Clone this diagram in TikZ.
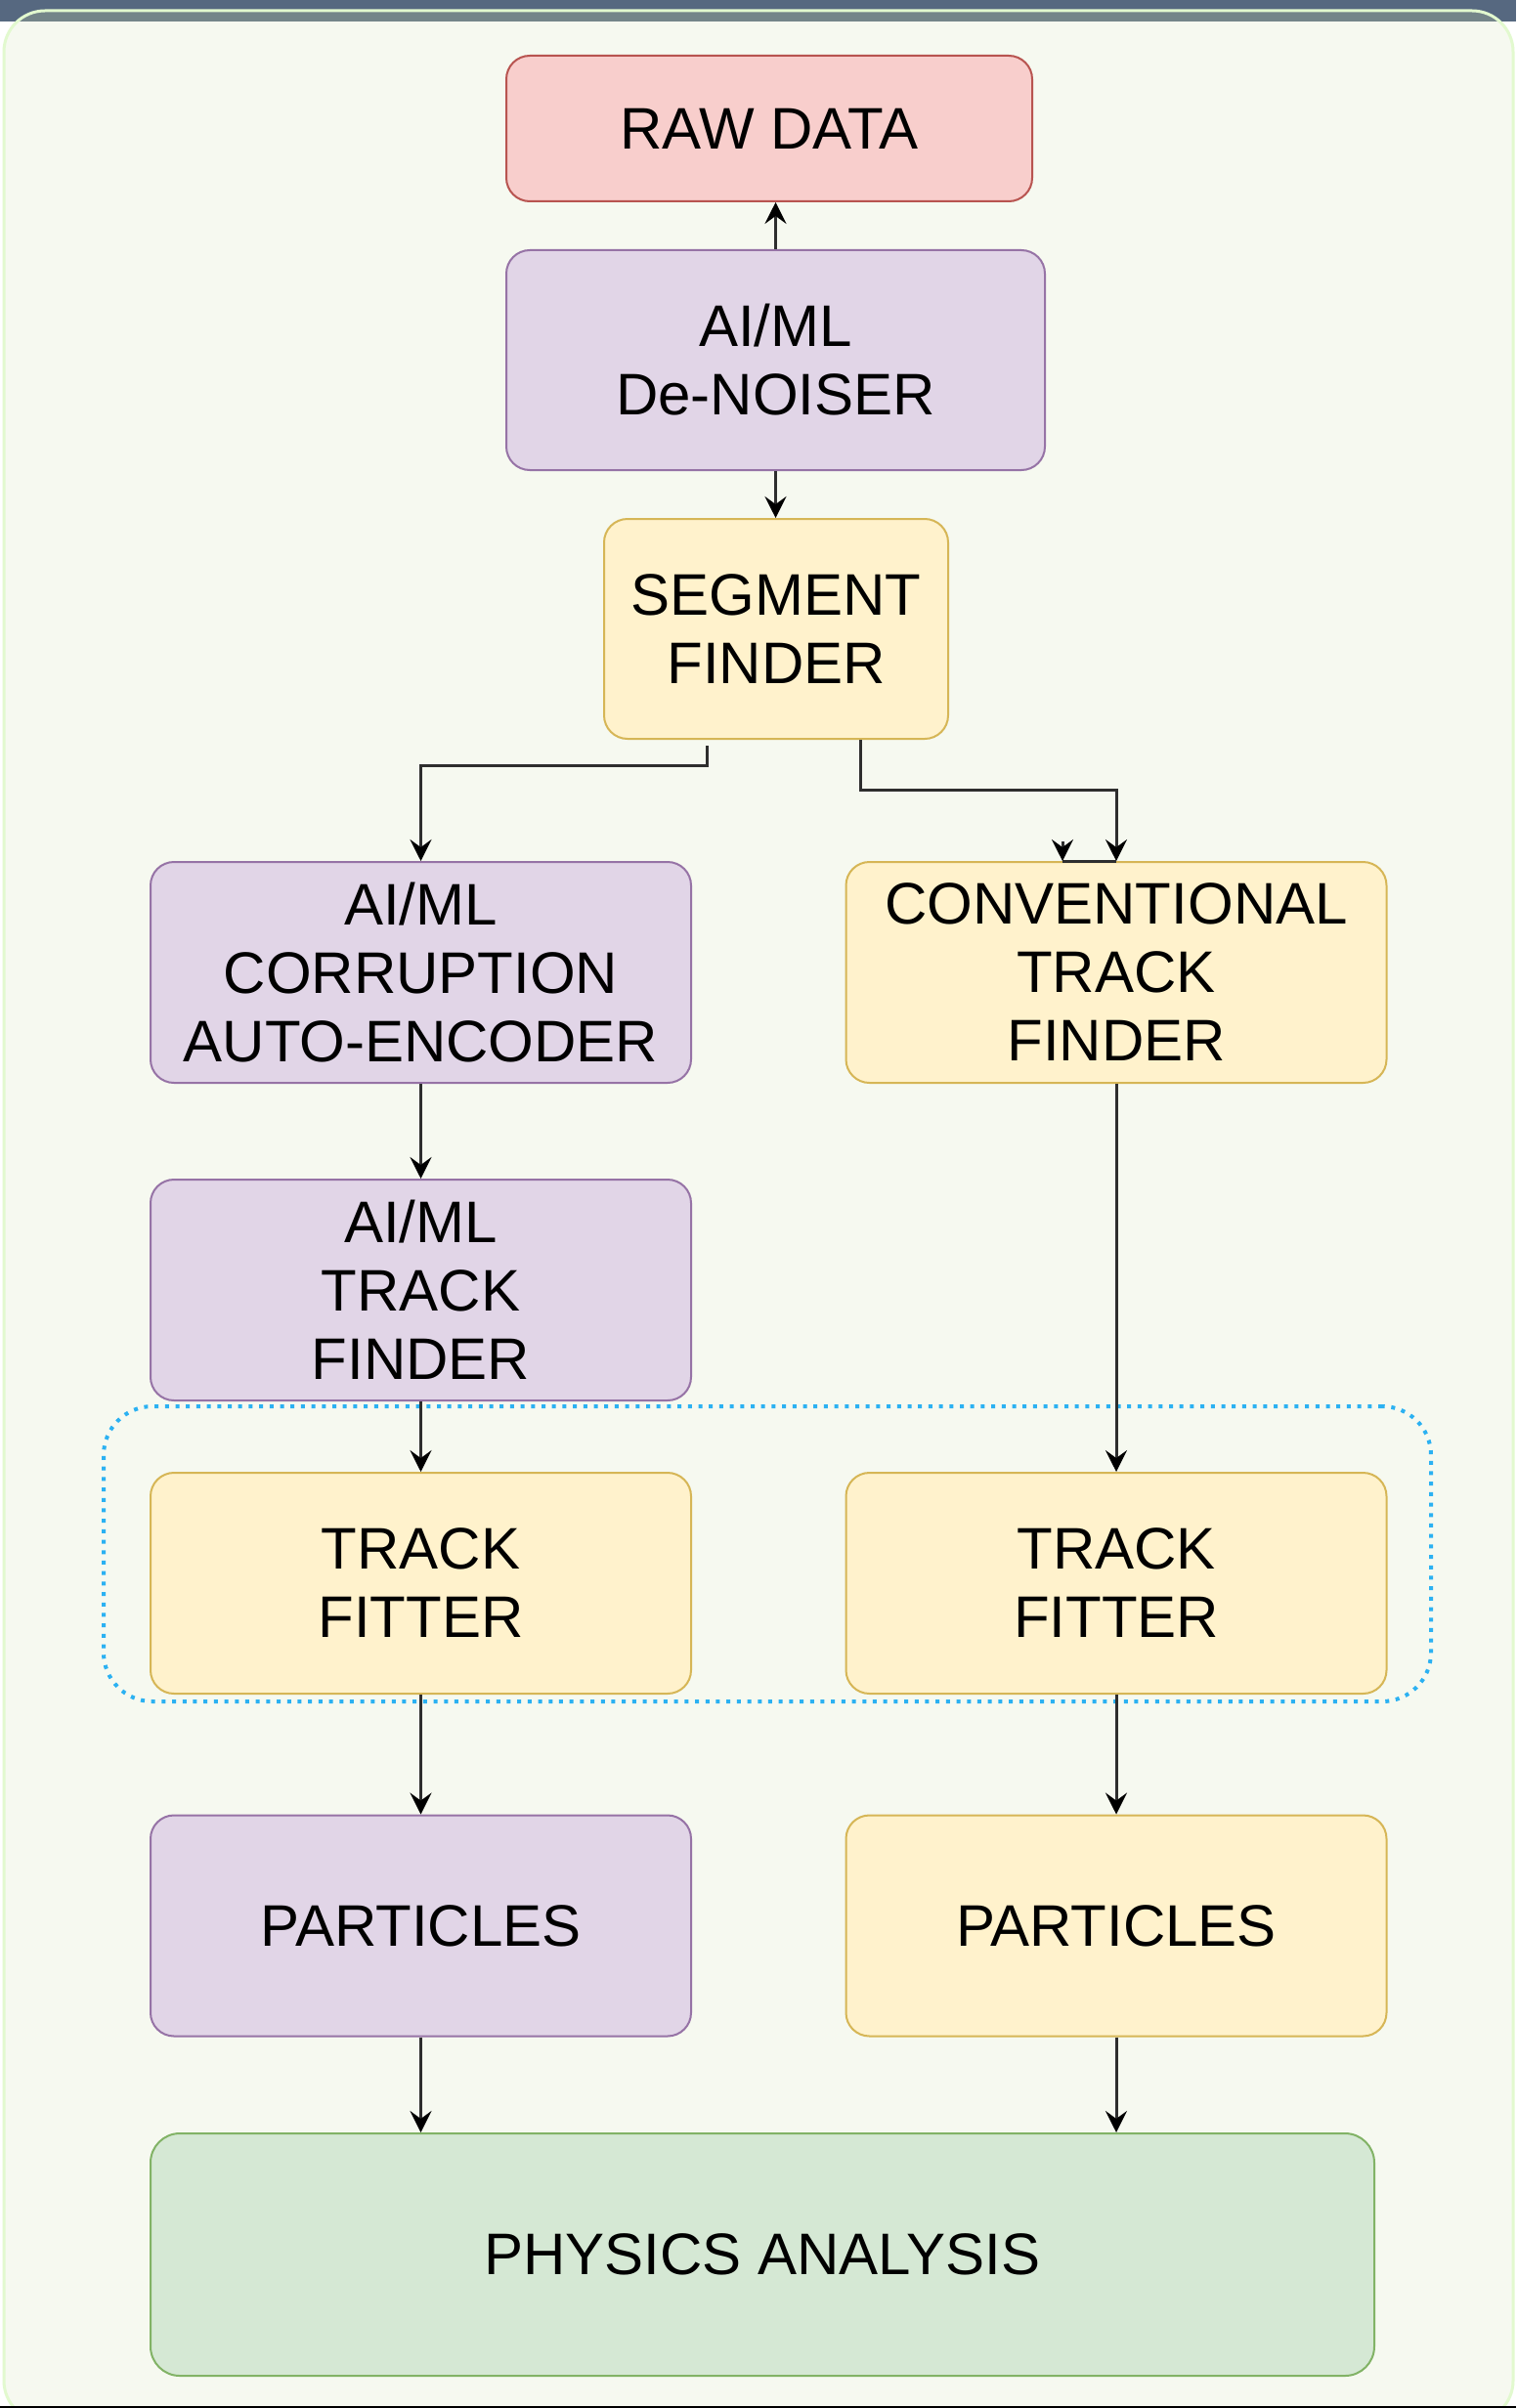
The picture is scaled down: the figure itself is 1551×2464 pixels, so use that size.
\documentclass[tikz,border=0pt]{standalone}
\usepackage{fontspec}
\setmainfont{Liberation Sans}
\usetikzlibrary{arrows.meta,calc}

\definecolor{bandcol}{HTML}{566880}
\definecolor{bandtint}{HTML}{748589}
\definecolor{cardfill}{HTML}{F6F9F0}
\definecolor{cardline}{HTML}{E2F9CF}
\definecolor{rawfill}{HTML}{F8CECC}
\definecolor{rawline}{HTML}{B85450}
\definecolor{mlfill}{HTML}{E1D5E7}
\definecolor{mlline}{HTML}{9673A6}
\definecolor{convfill}{HTML}{FFF2CC}
\definecolor{convline}{HTML}{D6B656}
\definecolor{anafill}{HTML}{D5E8D4}
\definecolor{analine}{HTML}{82B366}
\definecolor{linkgray}{HTML}{2E2E2E}
\definecolor{grpblue}{HTML}{2BB1F2}
\definecolor{baseline}{HTML}{95A7BB}

\begin{document}
\begin{tikzpicture}[x=1pt,y=-1pt,
  box/.style={rounded corners=24pt, line width=2pt, align=center, inner sep=0pt,
    font=\fontsize{60}{70}\selectfont, text=black},
  wide/.style={minimum width=553pt, minimum height=226pt},
  rawbox/.style={box, fill=rawfill, draw=rawline},
  mlbox/.style={box, fill=mlfill, draw=mlline},
  convbox/.style={box, fill=convfill, draw=convline},
  anabox/.style={box, fill=anafill, draw=analine, rounded corners=30pt},
  link/.style={line width=3pt, draw=linkgray,
    -{Stealth[length=22pt,width=22pt,inset=8pt,color=black]}},
  grp/.style={draw=grpblue, line width=4pt, dash pattern=on 4pt off 6.7pt,
    rounded corners=50pt, inner sep=0pt},
]
\useasboundingbox (0,0) rectangle (1551,2464);

% card background and window band
\fill[white] (0,0) rectangle (1551,2464);
\fill[cardfill, rounded corners=42pt] (4,11) rectangle (1548,2478);
\fill[bandcol] (0,0) rectangle (1551,22);
\begin{scope}
  \clip[rounded corners=42pt] (4,11) rectangle (1548,2478);
  \fill[bandtint] (0,0) rectangle (1551,22);
\end{scope}
\draw[cardline, line width=3pt, rounded corners=42pt] (4,11) rectangle (1548,2478);
\draw[baseline, line width=2pt] (0,2463) -- (1551,2463);

% processing stages
\node[rawbox, minimum width=538pt, minimum height=149pt] (raw) at (787,131.5) {RAW DATA};
\node[mlbox, minimum width=551pt, minimum height=225pt] (dn) at (793.5,368.5) {AI/ML\\De-NOISER};
\node[convbox, minimum width=352pt, minimum height=225pt] (seg) at (794,643.5) {SEGMENT\\FINDER};

\node[mlbox, wide] (cae) at (430.5,995) {AI/ML\\CORRUPTION\\AUTO-ENCODER};
\node[convbox, wide] (ctf) at (1142,995) {CONVENTIONAL\\TRACK\\FINDER};

\node[mlbox, wide] (mtf) at (430.5,1320) {AI/ML\\TRACK\\FINDER};

\node[grp, minimum width=1358pt, minimum height=302pt] (grp) at (785,1590) {};

\node[convbox, wide] (fitL) at (430.5,1620) {TRACK\\FITTER};
\node[convbox, wide] (fitR) at (1142,1620) {TRACK\\FITTER};

\node[mlbox, wide] (parL) at (430.5,1970.5) {PARTICLES};
\node[convbox, wide] (parR) at (1142,1970.5) {PARTICLES};

\node[anabox, minimum width=1252pt, minimum height=248pt] (ana) at (780,2307) {PHYSICS ANALYSIS};

% connectors
\draw[link] (dn.north) -- (dn.north |- raw.south);
\draw[link] (dn.south) -- (dn.south |- seg.north);

\coordinate (segL) at ($(seg.south)+(-71,6)$);
\coordinate (segR) at ($(seg.south)+(86,0)$);
\draw[link] (segL) -- ++(0,20) -| (cae.north);
\draw[link] (segR) -- ++(0,51) -| (ctf.north);
\coordinate (ctfX) at ($(ctf.north)+(-55,0)$);
\draw[line width=3pt, draw=linkgray] (ctfX) -- (ctf.north);
\draw[link] ($(ctfX)+(0,-20)$) -- (ctfX);

\draw[link] (cae.south) -- (mtf.north);
\draw[link] (mtf.south) -- (fitL.north);
\draw[link] (ctf.south) -- (fitR.north);
\draw[link] (fitL.south) -- (parL.north);
\draw[link] (fitR.south) -- (parR.north);
\draw[link] (parL.south) -- (parL.south |- ana.north);
\draw[link] (parR.south) -- (parR.south |- ana.north);
\end{tikzpicture}
\end{document}
